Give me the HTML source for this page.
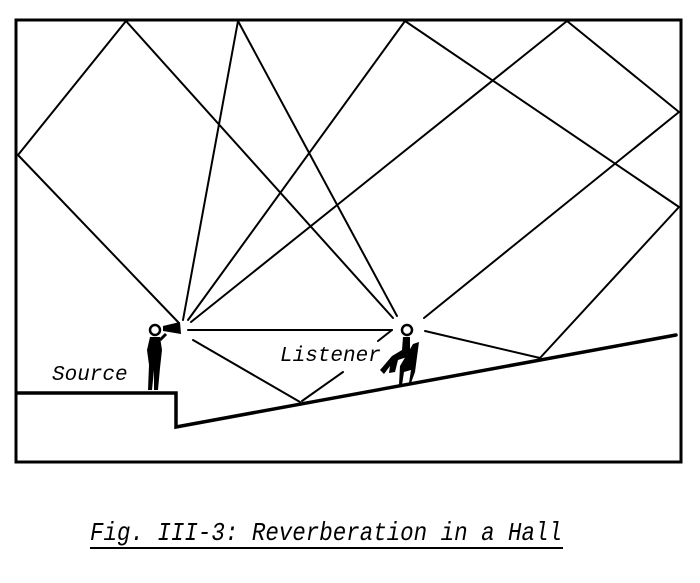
<!DOCTYPE html>
<html><head><style>
html,body{margin:0;padding:0;background:#fff;}
svg{display:block;}
text{font-family:"Liberation Mono",monospace;font-style:italic;fill:#000;}
</style></head><body>
<svg width="700" height="583" viewBox="0 0 700 583" xmlns="http://www.w3.org/2000/svg">
<g fill="none" stroke="#000" stroke-linecap="round">
<path d="M16 20 L681 20 L681 462 L16 462 Z" stroke-width="3"/>
<path d="M17 393 L176 393 L176 427 L676 335" stroke-width="3.5"/>
<g stroke-width="2">
<line x1="18" y1="155" x2="126" y2="21"/>
<line x1="18" y1="155" x2="178" y2="322"/>
<line x1="126" y1="21" x2="393" y2="318"/>
<line x1="238" y1="21" x2="183" y2="320"/>
<line x1="238" y1="21" x2="397" y2="316"/>
<line x1="405" y1="21" x2="188" y2="320"/>
<line x1="567" y1="21" x2="191" y2="322"/>
<line x1="405" y1="21" x2="679" y2="207"/>
<line x1="567" y1="21" x2="679" y2="112"/>
<line x1="679" y1="112" x2="424" y2="318"/>
<line x1="679" y1="207" x2="540" y2="358"/>
<line x1="540" y1="358" x2="425" y2="331"/>
<line x1="188" y1="330" x2="392" y2="330"/>
<line x1="392" y1="330" x2="378" y2="341"/>
<line x1="193" y1="340" x2="300" y2="402"/>
<line x1="302" y1="401" x2="343" y2="372"/>
</g>
</g>
<!-- source figure -->
<g>
<circle cx="155" cy="330" r="5" fill="#fff" stroke="#000" stroke-width="2.5"/>
<path d="M150 337 L160 337 L162 350 L160 368 L158 390 L154 390 L154 370 L152 390 L148 390 L149 365 L147 350 Z" fill="#000"/>
<path d="M160 340 L166 334" stroke="#000" stroke-width="3"/>
<path d="M163 326 L180 322 L181 334 L163 331 Z" fill="#000"/>
</g>
<!-- listener figure -->
<g>
<circle cx="407" cy="330" r="5" fill="#fff" stroke="#000" stroke-width="2.5"/>
<path d="M403 337 L410 337 L410 356 L398 360 L395 372 L389 373 L390 366 L384 374 L380 370 L392 356 L402 350 Z" fill="#000"/>
<path d="M413 344 L419 342 L415 372 L411 383 L409 383 L411 370 L404 372 L402 385 L399 385 L400 366 Z" fill="#000"/>
</g>
<text x="52" y="380" font-size="21">Source</text>
<text x="280" y="361" font-size="21">Listener</text>
<text x="90" y="540" font-size="26" textLength="472" lengthAdjust="spacingAndGlyphs">Fig. III-3: Reverberation in a Hall</text>
<line x1="90" y1="548" x2="563" y2="548" stroke="#000" stroke-width="2"/>
</svg>
</body></html>
